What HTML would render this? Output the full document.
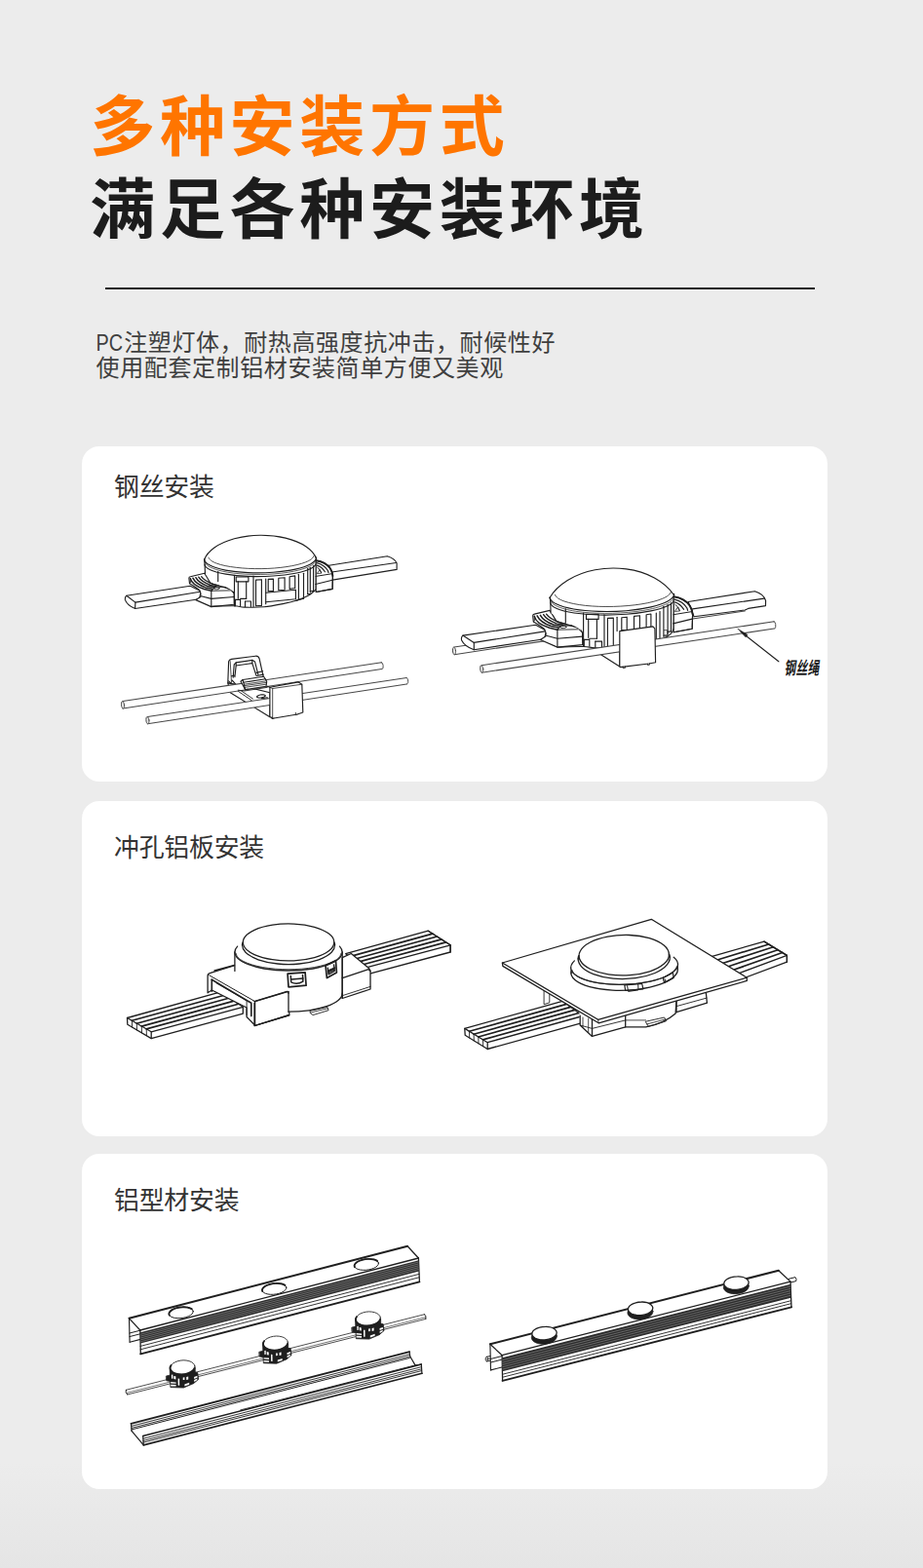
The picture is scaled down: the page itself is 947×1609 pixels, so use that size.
<!DOCTYPE html>
<html lang="zh-CN"><head><meta charset="utf-8"><title>多种安装方式</title>
<style>
html,body{margin:0;padding:0}
html{background:#ececec}
body{width:947px;height:1609px;position:relative;overflow:hidden;font-family:"Liberation Sans",sans-serif;
 background:linear-gradient(180deg,#ececec 0,#ececec 1500px,#e5e5e5 1609px)}
.card{position:absolute;left:84px;width:765px;height:344px;background:#fff;border-radius:18px}
.rule{position:absolute;left:108px;top:295px;width:728px;height:2px;background:#1e1e1e}
.art{position:absolute;left:0;top:0;width:947px;height:1609px;display:block}
.t{position:absolute;margin:0;color:transparent;white-space:nowrap;font-family:"Liberation Sans",sans-serif;overflow:hidden}
h1.t{left:96px;top:90px;width:570px;height:160px;font-size:66px;line-height:83px;font-weight:700}
p.t{left:99px;top:338px;width:480px;height:52px;font-size:24px;line-height:24.5px}
h2.t{left:117px;width:300px;height:30px;font-size:24px;line-height:30px;font-weight:400}
</style></head>
<body>
<h1 class="t">多种安装方式<br>满足各种安装环境</h1>
<div class="rule"></div>
<p class="t">PC注塑灯体，耐热高强度抗冲击，耐候性好<br>使用配套定制铝材安装简单方便又美观</p>
<section class="card" style="top:458px"></section>
<section class="card" style="top:822px"></section>
<section class="card" style="top:1184px"></section>
<h2 class="t" style="top:484px">钢丝安装</h2>
<h2 class="t" style="top:853px">冲孔铝板安装</h2>
<h2 class="t" style="top:1217px">铝型材安装</h2>
<span class="t" style="left:805px;top:676px;width:38px;height:18px;font-size:12px;line-height:18px">钢丝绳</span>
<svg class="art" width="947" height="1609" viewBox="0 0 947 1609">
<g font-family='"Liberation Sans", "Noto Sans CJK SC", sans-serif'>
<text x="92.2" y="154" font-size="67" font-weight="700" fill="#ff7500" letter-spacing="4.7">多种安装方式</text>
<text x="92.2" y="239.3" font-size="67" font-weight="700" fill="#1c1c1c" letter-spacing="4.7">满足各种安装环境</text>
<text x="98.6" y="359.6" font-size="24" fill="#3f3f3f" textLength="27.5" lengthAdjust="spacingAndGlyphs">PC</text>
<text x="127.2" y="359.6" font-size="24" fill="#3f3f3f" letter-spacing="0.6">注塑灯体，耐热高强度抗冲击，耐候性好</text>
<text x="98.6" y="386.2" font-size="24" fill="#3f3f3f" letter-spacing="0.6">使用配套定制铝材安装简单方便又美观</text>
<text x="117.1" y="509.4" font-size="25.9" fill="#333" letter-spacing="-0.25">钢丝安装</text>
<text x="117.1" y="878.6" font-size="25.9" fill="#333" letter-spacing="-0.25">冲孔铝板安装</text>
<text x="117.1" y="1241.2" font-size="25.9" fill="#333" letter-spacing="-0.25">铝型材安装</text>
<g transform="translate(804.4 692.2) skewX(-9) scale(0.64 1)"><text x="0" y="0" font-size="18.2" font-weight="700" fill="#1c1c1c" letter-spacing="0.55">钢丝绳</text></g>
</g>
<g fill="none" stroke="#1f1f1f" stroke-width="1.1" stroke-linecap="round" stroke-linejoin="round">
<g stroke-width="1.15">
<path fill="#fff" d="M129.8 611.3 L195.2 601.2 L206.2 606.7 L204.5 614.7 L138.6 624.5 Q130.5 621.4 128.3 615.4 Q128.1 612.3 129.8 611.3 Z"/>
<path d="M129.8 611.3 L138.9 618.1 205.3 607.2"/>
<path d="M138.9 618.1 L138.6 624.5"/>
<path fill="#fff" d="M193.9 593.2 Q193.9 591.8 195.3 591.7 L209.8 588.3 L216 598.5 L238.2 605.1 L240.1 609 L240.3 620.3 L216.8 622.6 L200.9 615.6 L205.8 612.5 Q206.8 609.6 205 606 Q202 603.1 194.5 598.8 Z"/>
<path stroke-width="1.5" d="M195.3 593.7 Q196.8 600.3 209.4 604.5 L216.8 606.3"/>
<path stroke-width="1.5" d="M197.9 593.2 Q200.9 599.4 210.9 602.9 L217.9 604.2"/>
<path stroke-width="1.5" d="M200.9 592.7 Q203.8 598.1 213.1 601.6 L219.7 602.6"/>
<path stroke-width="1.4" d="M203.8 592.2 Q206.8 597.1 216 600.5 L222 601.6"/>
<path stroke-width="1.3" d="M206.6 591.7 Q209.4 595.9 219 599.6 L224.2 600.8"/>
<path stroke-width="0.9" d="M194.5 598.8 L195.3 598.1 L195.3 593.7"/>
<path d="M216.8 606.3 L216.8 622.6"/>
<path d="M216.8 606.3 L220.5 602.3 L230.1 602.2 L238.2 605.1"/>
<path stroke-width="0.9" d="M216.8 606.3 L236.7 605.9 240.1 609.0"/>
<path d="M206.4 611.8 L216.8 614.4 L240.1 612.5"/>
<path stroke-width="0.9" d="M225.1 603.7 C225.1 603.8 225 604 224.8 604.1 C224.6 604.3 224.3 604.5 224 604.6 C223.6 604.7 223.2 604.8 222.7 604.8 C222.3 604.9 221.8 604.9 221.4 604.8 C221 604.8 220.6 604.7 220.3 604.6 C220 604.5 219.7 604.3 219.6 604.2 C219.5 604 219.5 603.9 219.6 603.7 C219.7 603.5 219.9 603.4 220.2 603.2 C220.5 603.1 220.9 603 221.3 602.9 C221.7 602.8 222.2 602.8 222.6 602.8 C223.1 602.8 223.5 602.8 223.9 602.9 C224.3 602.9 224.6 603.1 224.8 603.2 C225 603.3 225.1 603.5 225.1 603.7 Z"/>
<path fill="#fff" stroke="none" d="M209.6 573.8 Q220.3 550.1 267.6 549.3 Q316.6 550.1 324.5 572.1 L324.2 605 Q314.9 613.5 303.4 616.4 L271 622.8 L240.5 621.9 L240.5 607.2 L210.5 589.3 Z"/>
<path d="M209.5 574.8 C211 570.2 214.5 565.8 219.9 562 C225.2 558.2 232.3 555.1 240.4 552.8 C248.5 550.6 257.5 549.4 266.7 549.3 C275.8 549.2 284.8 550.1 293 552.1 C301.2 554.1 308.3 557 313.8 560.7 C319.2 564.3 322.9 568.6 324.5 573.2"/>
<path stroke-width="0.8" d="M321.9 570.6 C321.3 572.8 318.4 575 313.5 576.9 C308.7 578.8 301.9 580.4 294 581.6 C286.1 582.8 277.2 583.5 268.1 583.6 C259 583.7 250.1 583.3 242.2 582.3 C234.2 581.4 227.4 580 222.5 578.2 C217.6 576.4 214.7 574.3 214 572.1"/>
<path d="M324.5 572.2 C324.6 574.4 322.6 576.6 318.9 578.7 C315.2 580.7 309.8 582.6 303 584.1 C296.3 585.6 288.5 586.6 280.1 587.3 C271.7 587.9 262.9 588 254.5 587.6 C246.1 587.2 238.2 586.4 231.4 585.1 C224.7 583.8 219.2 582.1 215.4 580.1 C211.6 578.2 209.7 576 209.6 573.7"/>
<path stroke-width="0.7" d="M324.3 574.8 C324 577.3 321.2 579.8 316.1 581.9 C311.1 584.1 303.9 585.9 295.4 587.3 C286.9 588.6 277.2 589.4 267.4 589.5 C257.6 589.6 248 589.1 239.5 588.1 C230.9 587 223.7 585.3 218.6 583.3 C213.4 581.3 210.6 578.9 210.2 576.4"/>
<path d="M324.5 577.6 C324.5 579.5 322.6 581.5 318.9 583.4 C315.2 585.2 309.8 586.8 303.1 588.2 C296.4 589.5 288.5 590.5 280.2 591 C271.8 591.6 263.1 591.7 254.7 591.4 C246.3 591.1 238.4 590.3 231.7 589.1 C224.9 588 219.5 586.5 215.7 584.8 C212 583.1 210 581.1 210 579.1"/>
<path d="M209.6 573.8 L210.1 579.7 210.5 589.3"/>
<path d="M324.5 572.1 L324.5 576.8 324.2 605.0"/>
<path d="M216.4 622.3 C220.4 622.2 234.8 621.6 240.5 621.8 C246.3 621.9 245.6 623 250.7 623.1 C255.8 623.3 264.2 623.4 271 622.8 C277.7 622.2 285.6 620.5 291.2 619.4 C296.9 618.3 300.5 617.4 304.8 616 C309 614.6 313.3 612.8 316.6 611 C319.8 609.1 322.9 606 324.2 605.0"/>
<path d="M223.7 586.5 L223.7 596.6"/>
<path d="M240.5 590.3 L240.5 621.8"/>
<path d="M260 591 L260 622.4"/>
<path d="M242.2 592 L254.9 592 254.9 596.8 242.2 596.8 Z"/>
<path d="M244.3 596.8 L244.3 614.3"/>
<path d="M252.7 596.8 L252.7 614.3"/>
<path d="M241.4 615.4 L246.6 615.4 246.6 621.8"/>
<path d="M241.4 615.4 L241.4 621.8"/>
<path d="M251.5 617 L257.4 617 257.4 622.4"/>
<path d="M251.5 617 L251.5 622.4"/>
<path d="M246.6 614.3 L252.7 614.3"/>
<path d="M262.5 595.1 L268.4 594.7 268.4 621.4 262.5 621.8 Z"/>
<path d="M272.7 594.1 L272.7 619.7"/>
<path d="M275.2 594.4 L280.4 594.1 280.4 606.4 275.2 606.9 Z"/>
<path d="M285.8 593.2 L292.1 592.7 292.1 605.2 285.8 605.7 Z"/>
<path d="M297.1 591.7 L302.7 590.9 302.7 603.5 297.1 604.4 Z"/>
<path d="M273 608.3 L303.4 605.2 303.4 614.7 273 617.7"/>
<path d="M306.4 589.3 L306.4 615.5"/>
<path d="M311.5 588.2 L311.5 614.3"/>
<path d="M315.7 583.3 L315.7 609.6"/>
<path d="M318.3 582.2 L318.3 607.9"/>
<path d="M321.6 580.5 L321.6 606.7"/>
<path d="M315.7 609.6 L318.3 609.6"/>
<path d="M318.3 606.7 L321.6 606.2"/>
<path d="M303.4 616.4 L311.5 614.3"/>
<path fill="#fff" d="M337.4 580.2 L397.4 570.7 Q405.4 573.1 407.1 578 L407.1 584.4 L341.2 595.1 Z"/>
<path d="M340.5 587 L406.4 577.5"/>
<path fill="#fff" d="M324.2 575.2 Q334.7 576.6 339.2 583.7 Q341.4 587.3 341.4 591 L341.1 604.4 L324.2 607.5 Z"/>
<path stroke-width="1.9" d="M324.4 575.2 Q334 576.4 338.8 583.3 Q341.2 587.3 341.4 591.0"/>
<path stroke-width="1.2" d="M325 577.7 Q332.5 579.4 336.4 585.5 L337 587.6"/>
<path stroke-width="1.1" d="M325.3 580.1 Q330.3 581.6 333.4 586.8"/>
<path stroke-width="1.0" d="M325.7 582.3 Q328.5 583.8 329.6 587.6"/>
<path stroke-width="1.0" d="M324 591.4 L340.8 588.7"/>
<path d="M323.8 599.5 L341.1 595.3"/>
<path d="M341.4 591 L341.1 604.4 324.2 607.5"/>
<path stroke-width="0.8" d="M325.5 588.2 L328.1 584.5 329.7 587.8 Z"/>
</g>
<g stroke-width="1.15">
<path fill="#fff" d="M233.8 700.9 L234.6 678.9 Q235 676.9 237.5 676.4 L262.2 673.2 Q265.2 673 266.1 675.9 L271 698.2 L250.7 704.3 Z"/>
<path d="M239.2 695.1 L240.2 682 L242.2 679.9 L259.1 677.4 L261.5 678.9 L264.9 692.4"/>
<path d="M242.2 683 L258.8 680.6"/>
<path d="M242.2 679.9 L242.2 683 240.9 694.6"/>
<path d="M258.8 677.4 L258.8 680.6 262.9 693.1"/>
<path stroke-width="0.8" d="M236.2 678.6 L237.5 700.5"/>
<path d="M262.9 690.4 L269.6 688.7"/>
<path d="M263.5 693.5 L270.3 692.1"/>
<path d="M237.5 693.8 L240.5 693.1"/>
<path d="M238 698 L241.9 702.2"/>
<path d="M234.6 698.9 L240.5 704.3"/>
<path fill="#fff" d="M233.8 700.9 L236.3 710.7 L276.9 735.7 L276.9 710.7 L250.7 704.3 Z"/>
<path stroke-width="0.9" d="M244.3 709.3 L258.3 718.8"/>
<path stroke-width="0.9" d="M246.5 708.2 L259.5 717.1"/>
<path d="M272.3 713.8 C272.3 714 272.2 714.3 271.9 714.6 C271.6 714.8 271.1 715.1 270.6 715.3 C270 715.5 269.4 715.7 268.6 715.8 C268 716 267.2 716 266.6 716 C265.9 716 265.3 716 264.8 715.9 C264.3 715.7 263.9 715.6 263.7 715.3 C263.5 715.1 263.5 714.9 263.6 714.6 C263.8 714.4 264.1 714.1 264.5 713.9 C265 713.6 265.5 713.4 266.2 713.2 C266.8 713 267.5 712.9 268.2 712.8 C268.9 712.8 269.6 712.8 270.2 712.8 C270.8 712.9 271.3 713 271.7 713.2 C272 713.3 272.2 713.5 272.3 713.8 Z"/>
<path d="M268.4 716.6 L274.3 715.8 274.3 720.8 269.6 721.7 269.6 724.2"/>
<path fill="#fff" stroke="none" d="M126 719.6 L391.6 679.8 L391.6 686.6 L126 727.1 Z"/>
<path stroke-width="1.05" stroke="#484848" d="M126 719.6 L391.6 679.8"/>
<path stroke-width="1.05" stroke="#484848" d="M126 727.1 L391.6 686.6"/>
<path fill="#e8e8e8" stroke-width="1.0" stroke="#484848" d="M127.5 723.2 C127.6 723.8 127.6 724.4 127.5 724.9 C127.4 725.5 127.3 726 127.2 726.3 C127 726.7 126.8 726.9 126.6 727 C126.3 727.1 126.1 727.1 125.8 726.9 C125.6 726.7 125.4 726.4 125.1 725.9 C124.9 725.5 124.8 725 124.6 724.4 C124.5 723.8 124.5 723.2 124.5 722.6 C124.5 722 124.5 721.5 124.6 721 C124.7 720.5 124.9 720.2 125.1 719.9 C125.3 719.7 125.5 719.6 125.8 719.6 C126 719.7 126.3 719.9 126.5 720.2 C126.8 720.5 127 721 127.1 721.5 C127.3 722 127.4 722.6 127.5 723.2 Z"/>
<path stroke-width="1.0" stroke="#484848" d="M391.2 679.8 C391.5 679.8 391.7 679.9 391.9 680.1 C392.2 680.3 392.4 680.6 392.5 681 C392.7 681.4 392.9 681.8 393 682.3 C393.1 682.8 393.1 683.3 393.1 683.8 C393.1 684.3 393.1 684.8 393 685.2 C392.9 685.6 392.7 685.9 392.6 686.2 C392.4 686.4 392.2 686.6 392 686.6"/>
<path fill="#fff" d="M247 699.2 L249 697.5 L270.6 694.3 L273.7 699.2 L273 704.3 L251.5 707.6 L249.8 704.3 Z"/>
<path d="M249.8 700.2 L272.3 696.8"/>
<path stroke-width="0.8" d="M250.7 702.2 L272.7 698.9"/>
<path stroke-width="0.8" d="M251 703.6 L272.8 700.5"/>
<path stroke-width="0.8" d="M251.4 705.3 L273 702.2"/>
<path d="M249 697.5 L249.8 700.2 251.5 707.6"/>
<path stroke-width="0.9" d="M244.3 708.2 L250.7 709 L274.3 705.3"/>
<path fill="#fff" stroke="none" d="M151.4 735.5 L417.2 695.5 L417.2 701.9 L151.4 742.8 Z"/>
<path stroke-width="1.05" stroke="#484848" d="M151.4 735.5 L417.2 695.5"/>
<path stroke-width="1.05" stroke="#484848" d="M151.4 742.8 L417.2 701.9"/>
<path fill="#e8e8e8" stroke-width="1.0" stroke="#484848" d="M152.9 739 C153 739.6 153 740.2 152.9 740.7 C152.8 741.2 152.7 741.7 152.6 742 C152.4 742.4 152.2 742.6 152 742.7 C151.7 742.8 151.5 742.8 151.2 742.6 C151 742.4 150.7 742.1 150.5 741.7 C150.3 741.3 150.2 740.7 150 740.2 C149.9 739.6 149.9 739 149.9 738.4 C149.9 737.9 149.9 737.3 150 736.9 C150.1 736.4 150.3 736 150.5 735.8 C150.7 735.6 151 735.5 151.2 735.5 C151.4 735.6 151.7 735.8 151.9 736.1 C152.2 736.4 152.4 736.8 152.5 737.3 C152.7 737.8 152.8 738.4 152.9 739 Z"/>
<path stroke-width="1.0" stroke="#484848" d="M416.9 695.5 C417.1 695.5 417.3 695.6 417.5 695.8 C417.8 696 418 696.2 418.2 696.6 C418.3 697 418.5 697.4 418.6 697.8 C418.7 698.3 418.7 698.8 418.7 699.3 C418.7 699.7 418.7 700.2 418.6 700.6 C418.5 701 418.3 701.3 418.1 701.5 C418 701.7 417.8 701.9 417.5 701.9"/>
<path fill="#fff" d="M276.9 705.3 L306.1 699.9 L309.8 702.2 L310.8 731 L305.1 733 L279.7 737.2 L276.9 735.4 Z"/>
<path d="M274.3 704.3 L276.9 705.3"/>
<path stroke-width="0.8" d="M279.7 706.5 L279.7 737.2"/>
<path stroke-width="0.8" d="M276.9 705.3 L279.7 706.5 309.8 702.2"/>
<path stroke-width="0.8" d="M303.4 731.3 L303.4 733.7 305.1 733.0"/>
<path stroke-width="0.8" d="M279.1 735.7 L279.1 737.7 281.1 737.0"/>
</g>
<g stroke-width="1.15">
<path fill="#fff" stroke="none" d="M466 664.1 L764.3 619.4 L764.3 626.9 L466 671.7 Z"/>
<path stroke-width="1.05" stroke="#484848" d="M466 664.1 L764.3 619.4"/>
<path stroke-width="1.05" stroke="#484848" d="M466 671.7 L764.3 626.9"/>
<path fill="#e8e8e8" stroke-width="1.0" stroke="#484848" d="M467.5 667.7 C467.6 668.4 467.6 669 467.5 669.5 C467.5 670.1 467.3 670.6 467.2 670.9 C467 671.3 466.8 671.5 466.6 671.6 C466.3 671.7 466.1 671.7 465.8 671.5 C465.6 671.3 465.4 671 465.1 670.5 C464.9 670.1 464.8 669.5 464.6 669 C464.5 668.4 464.5 667.7 464.5 667.1 C464.5 666.5 464.5 666 464.6 665.5 C464.7 665 464.9 664.7 465.1 664.4 C465.3 664.2 465.5 664.1 465.8 664.1 C466 664.2 466.3 664.4 466.5 664.7 C466.8 665 467 665.5 467.1 666 C467.3 666.5 467.4 667.1 467.5 667.7 Z"/>
<path fill="#fff" d="M474.9 652.1 L549.6 641.3 L560.6 647.2 L558.4 655.7 L486.3 666.7 Q476.6 663.1 473.6 656.9 Q472.9 653.7 474.9 652.1 Z"/>
<path d="M474.9 652.1 L486.3 659.4 558.9 647.9"/>
<path d="M486.3 659.4 L486.3 666.7"/>
<path fill="#fff" d="M546.7 631.8 Q546.7 630.3 548.3 630.1 L564.1 626.4 L571 637.6 L595.4 644.9 L597.5 649.2 L597.7 661.6 L571.9 664.1 L554.4 656.5 L559.8 653.1 Q560.9 649.8 558.9 645.9 Q555.6 642.7 547.3 638 Z"/>
<path stroke-width="1.5" d="M548.3 632.3 Q549.9 639.7 563.7 644.3 L571.9 646.2"/>
<path stroke-width="1.5" d="M551.1 631.8 Q554.4 638.6 565.4 642.5 L573.1 644.0"/>
<path stroke-width="1.5" d="M554.4 631.3 Q557.6 637.2 567.8 641 L575.1 642.2"/>
<path stroke-width="1.4" d="M557.6 630.7 Q560.9 636.2 571 639.9 L577.6 641.0"/>
<path stroke-width="1.3" d="M560.6 630.1 Q563.7 634.8 574.3 638.8 L580 640.2"/>
<path stroke-width="0.9" d="M547.3 638 L548.3 637.2 L548.3 632.3"/>
<path d="M571.9 646.2 L571.9 664.1"/>
<path d="M571.9 646.2 L575.9 641.9 L586.5 641.7 L595.4 644.9"/>
<path stroke-width="0.9" d="M571.9 646.2 L593.8 645.8 597.5 649.2"/>
<path d="M560.5 652.3 L571.9 655.2 L597.6 653.1"/>
<path stroke-width="0.9" d="M581 643.3 C581.1 643.5 580.9 643.7 580.7 643.9 C580.5 644 580.2 644.2 579.8 644.3 C579.4 644.4 578.9 644.5 578.4 644.6 C577.9 644.6 577.4 644.6 576.9 644.6 C576.4 644.6 576 644.5 575.7 644.4 C575.4 644.2 575.1 644.1 575 643.9 C574.8 643.7 574.8 643.6 575 643.4 C575.1 643.2 575.3 643 575.6 642.8 C575.9 642.7 576.4 642.6 576.8 642.5 C577.3 642.4 577.8 642.3 578.3 642.3 C578.8 642.3 579.2 642.4 579.7 642.5 C580.1 642.5 580.4 642.7 580.7 642.8 C580.9 643 581 643.1 581 643.3 Z"/>
<path fill="#fff" stroke="none" d="M564.3 612.9 Q573.6 583.4 629.3 583 Q683.4 584.2 691.5 609.6 L691.2 645 Q683.4 654.3 671.6 659.4 L636.1 665.3 L599.3 663.6 L598.6 647.6 L565.1 629 Z"/>
<path d="M563.8 613.7 C567.8 606.8 574.1 600.6 582.3 595.5 C590.4 590.5 600 586.8 610.5 584.8 C620.9 582.8 631.9 582.5 642.5 583.9 C653 585.3 662.9 588.4 671.4 592.9 C679.8 597.5 686.5 603.3 691 610.0"/>
<path stroke-width="0.8" d="M688.5 607.3 C687.9 609.8 684.7 612.2 679.4 614.4 C674.1 616.6 666.7 618.5 657.9 619.9 C649.2 621.3 639.4 622.1 629.4 622.4 C619.4 622.7 609.5 622.3 600.7 621.4 C591.9 620.4 584.5 618.9 579 617 C573.6 615.1 570.3 612.9 569.5 610.4"/>
<path d="M691.7 609.6 C691.7 612 689.6 614.5 685.5 616.8 C681.4 619.1 675.5 621.2 668 622.9 C660.6 624.6 651.9 625.9 642.6 626.7 C633.3 627.5 623.6 627.7 614.2 627.4 C604.9 627.1 596.1 626.3 588.6 625 C581.1 623.7 575 621.9 570.8 619.8 C566.6 617.7 564.4 615.4 564.3 612.9"/>
<path stroke-width="0.7" d="M691.5 612.7 C691.2 615.3 688.1 618 682.5 620.4 C676.9 622.9 669 625 659.5 626.5 C650.1 628.1 639.4 629 628.6 629.3 C617.7 629.6 607 629.2 597.5 628.2 C588 627.1 580 625.4 574.3 623.3 C568.6 621.2 565.3 618.6 564.9 616.0"/>
<path d="M691.5 615.2 C691.5 617.3 689.5 619.5 685.4 621.5 C681.3 623.5 675.3 625.4 667.9 626.9 C660.5 628.4 651.9 629.6 642.6 630.3 C633.3 631 623.7 631.3 614.4 631 C605.1 630.8 596.4 630.1 589 629 C581.5 627.8 575.4 626.3 571.3 624.5 C567.1 622.7 564.9 620.6 564.8 618.5"/>
<path d="M564.3 612.9 L564.8 619.7 565.1 629.0"/>
<path d="M691.5 609.6 L691.5 613.8 691.2 645.0"/>
<path d="M572.7 664.1 C577 664 592.3 663.3 598.6 663.5 C604.9 663.6 604.5 664.5 610.8 664.8 C617 665.1 631.9 665.2 636.1 665.3"/>
<path d="M671.6 659.4 C673 658.9 677.2 657.6 680 656 C682.8 654.5 686.6 651.9 688.5 650.1 C690.3 648.3 690.7 645.9 691.2 645.0"/>
<path d="M580.3 624.8 L580.3 639.1"/>
<path d="M598.6 629 L598.6 663.5"/>
<path d="M601.5 630.3 L614.1 630.3 614.1 635.4 601.5 635.4 Z"/>
<path d="M603.7 635.4 L603.7 654.3"/>
<path d="M612.4 635.4 L612.4 655.2"/>
<path d="M604.8 655.2 L612.4 655.2"/>
<path d="M599.3 656.4 L604.8 656.4 604.8 663.1"/>
<path d="M599.3 656.4 L599.3 663.1"/>
<path d="M610.8 658.1 L617.5 658.1 617.5 664.5"/>
<path d="M610.8 658.1 L610.8 664.5"/>
<path d="M620 630.7 L620 664.8"/>
<path d="M623.4 634.4 L629.3 634.1 629.3 664.8 623.4 664.8 Z"/>
<path d="M633.1 633.2 L633.1 647.6"/>
<path d="M637.8 633.7 L643.2 633.2 643.2 646.2 637.8 646.7 Z"/>
<path d="M650.5 632.4 L656.4 631.7 656.4 645.2 650.5 645.9 Z"/>
<path d="M663.1 630.7 L667.9 630 667.9 643.5 663.1 644.2 Z"/>
<path d="M673.3 629 L673.3 658.6"/>
<path d="M677 627.6 L677 657.4"/>
<path d="M680.9 622.2 L680.9 653.0"/>
<path d="M685.1 620.5 L685.1 651.0"/>
<path d="M688.5 618.9 L688.5 647.9"/>
<path d="M680.9 653 L685.1 652.7"/>
<path d="M685.1 648.4 L688.5 647.9"/>
<path stroke-width="0.8" d="M681.4 646.7 L684.8 646.7 684.8 651.8 681.4 651.8"/>
<path fill="#fff" d="M706.1 617.5 L774.5 606.7 Q783.8 609.6 785.6 616.3 L785.5 621.6 L767.7 624.4 L764.3 626 L712 632.7 Z"/>
<path d="M710.6 624.9 L783.9 614.1"/>
<path fill="#fff" d="M691.2 612.3 Q703.1 614 708.1 621.9 Q710.6 626.1 710.6 630.3 L710.2 645.3 L691.2 648.8 Z"/>
<path stroke-width="1.9" d="M691.4 612.3 Q702.2 613.7 707.7 621.5 Q710.4 626.1 710.6 630.3"/>
<path stroke-width="1.2" d="M692 615.2 Q700.6 617.1 704.9 624 L705.6 626.4"/>
<path stroke-width="1.1" d="M692.4 617.9 Q698 619.6 701.6 625.4"/>
<path stroke-width="1.0" d="M692.9 620.4 Q696 622.1 697.2 626.4"/>
<path stroke-width="1.0" d="M690.9 630.7 L709.9 627.6"/>
<path d="M690.7 639.9 L710.2 635.1"/>
<path d="M710.6 630.3 L710.2 645.3 691.2 648.8"/>
<path stroke-width="0.8" d="M692.6 627.1 L695.5 622.9 697.4 626.6 Z"/>
<path fill="#fff" d="M615.8 671.2 L635.8 684.1 L635.8 667.9 L629.3 665.3 Z"/>
<path stroke-width="0.8" d="M626 667 L629.3 666.5 629.3 669.5 631.4 669.2"/>
<path fill="#fff" stroke="none" d="M494.2 682.7 L794.3 637.8 L794.3 645 L494.2 690.2 Z"/>
<path stroke-width="1.05" stroke="#484848" d="M494.2 682.7 L794.3 637.8"/>
<path stroke-width="1.05" stroke="#484848" d="M494.2 690.2 L794.3 645.0"/>
<path fill="#e8e8e8" stroke-width="1.0" stroke="#484848" d="M495.7 686.3 C495.8 686.9 495.8 687.5 495.7 688 C495.6 688.6 495.5 689.1 495.4 689.4 C495.2 689.8 495 690 494.8 690.1 C494.5 690.2 494.3 690.2 494 690 C493.8 689.8 493.6 689.5 493.3 689 C493.1 688.6 493 688.1 492.8 687.5 C492.7 686.9 492.7 686.3 492.7 685.7 C492.7 685.1 492.7 684.6 492.8 684.1 C492.9 683.6 493.1 683.3 493.3 683 C493.5 682.8 493.7 682.7 494 682.7 C494.2 682.8 494.5 683 494.7 683.3 C495 683.6 495.2 684.1 495.3 684.6 C495.5 685.1 495.6 685.7 495.7 686.3 Z"/>
<path stroke-width="1.0" stroke="#484848" d="M793.9 637.8 C794.1 637.8 794.4 637.9 794.6 638.1 C794.8 638.3 795 638.6 795.2 639 C795.4 639.5 795.6 639.9 795.7 640.5 C795.8 641 795.8 641.5 795.8 642 C795.8 642.6 795.8 643.1 795.7 643.5 C795.6 643.9 795.5 644.3 795.3 644.6 C795.1 644.8 794.9 645 794.7 645.0"/>
<path fill="#fff" d="M635.8 647.6 L669.9 642.9 L671.9 645.2 L672.6 679.7 L665.7 681 L636.4 684.6 L635.8 683.4 Z"/>
<path stroke-width="0.8" d="M639.1 684.1 L639.1 685.8 641.5 685.4 641.5 683.9"/>
<path stroke-width="0.8" d="M664.5 681.2 L664.5 682.6 666.5 682.2 666.5 680.9"/>
<path stroke-width="1.1" d="M798.9 678.8 L760.3 648.4"/>
<path fill="#1c1c1c" stroke-width="0.5" d="M757.1 645.2 L767.1 651.5 L765.2 653.7 Z"/>
</g>
<g stroke-width="1.3">
<path fill="#fff" d="M130.5 1044.5 L226.4 1017.9 L249.3 1033.3 L249.3 1040.1 L155.2 1065.6 L130.8 1051.3 Z"/>
<path d="M155.2 1058.8 L249.3 1033.3"/>
<path stroke-width="1.7" d="M135.4 1047.3 L231 1021.0"/>
<path stroke-width="0.9" d="M135.4 1047.3 L135.6 1054.2"/>
<path stroke-width="1.7" d="M140.3 1050.2 L235.6 1024.0"/>
<path stroke-width="0.9" d="M140.3 1050.2 L140.5 1057.0"/>
<path stroke-width="1.7" d="M145.3 1053.1 L240.1 1027.1"/>
<path stroke-width="0.9" d="M145.3 1053.1 L145.5 1059.9"/>
<path stroke-width="1.7" d="M150.2 1055.9 L244.7 1030.2"/>
<path stroke-width="0.9" d="M150.2 1055.9 L150.4 1062.7"/>
<path d="M130.5 1044.5 L155.2 1058.8 155.2 1065.6"/>
<path fill="#fff" d="M354.7 978.7 L439.3 955.2 L462.1 969.8 L462.1 977 L374.7 1000.4 L374.7 993.2 Z"/>
<path d="M374.7 993.2 L462.1 969.8"/>
<path stroke-width="1.7" d="M358.7 981.6 L443.9 958.1"/>
<path stroke-width="1.7" d="M362.7 984.5 L448.4 961.0"/>
<path stroke-width="1.7" d="M366.7 987.4 L453 963.9"/>
<path stroke-width="1.7" d="M370.7 990.3 L457.5 966.9"/>
<path d="M439.3 955.2 L462.1 969.8 462.1 977.0"/>
<path fill="#fff" d="M213.1 1001.4 Q213.1 998.9 216 998.3 L241.6 990.3 L296.8 1015 L296.8 1041.6 L261.6 1052.5 L260.7 1051.2 L253.1 1043.5 L253.1 1034 L217.3 1016 L213.1 1018.8 Z"/>
<path stroke-width="1.6" d="M217.3 1005.2 L217.3 1017.3"/>
<path stroke-width="1.6" d="M217.3 1005.2 L257.8 1029.3 L257.8 1042.6"/>
<path stroke-width="1.0" d="M214.7 1000.8 L261.6 1027.6"/>
<path d="M261.6 1027.6 L261.6 1052.5"/>
<path d="M261.6 1027.6 L295.8 1017.3"/>
<path stroke-width="0.8" d="M260.7 1029.3 L260.7 1051.2"/>
<path stroke-width="0.9" d="M222.3 1009 L253.1 1026.8 L253.1 1041.6"/>
<path d="M261.6 1052.5 L296.8 1042.0"/>
<path fill="#fff" stroke="none" d="M240.9 977 Q242.8 948.5 296 948.5 Q349.3 948.5 351.2 977 L351.2 1024.2 Q334 1037.8 296 1038.2 L296 1017.3 L240.9 996 Z"/>
<path fill="#fff" d="M351.2 982.7 L360.3 978.5 L378.7 993.7 L380 996.4 L380 1015 L351.2 1024.5 Z"/>
<path d="M351.2 1003.6 L378.1 994.7 380 996.4"/>
<path stroke-width="0.9" d="M351.2 1021.7 L380 1012.4"/>
<path d="M342.8 966.9 C342.8 970 340.9 973 337.4 975.8 C333.9 978.5 328.8 980.8 322.6 982.6 C316.4 984.3 309.2 985.4 301.7 985.8 C294.1 986.2 286.5 985.8 279.5 984.7 C272.4 983.6 266.1 981.9 261 979.6 C256 977.3 252.4 974.5 250.6 971.5 C248.8 968.5 248.8 965.4 250.6 962.4 C252.4 959.4 256 956.6 261 954.3 C266.1 952 272.4 950.3 279.5 949.2 C286.5 948.1 294.1 947.7 301.7 948.1 C309.2 948.5 316.4 949.6 322.6 951.3 C328.8 953.1 333.9 955.4 337.4 958.1 C340.9 960.8 342.8 963.9 342.8 966.9 Z"/>
<path d="M343.4 968.1 C344 971.2 342.9 974.3 340.1 977.3 C337.2 980.2 332.7 982.7 327 984.8 C321.3 986.8 314.5 988.3 307.2 989 C299.9 989.8 292.2 989.8 284.9 989 C277.6 988.3 270.7 986.8 265 984.8 C259.3 982.7 254.9 980.2 252 977.3 C249.2 974.3 248 971.2 248.7 968.1"/>
<path d="M249.3 966.9 L248.5 969.8"/>
<path d="M342.8 966.9 L343.5 969.8"/>
<path d="M348.5 971.1 C351.1 974 351.8 977 350.5 980 C349.1 983 345.7 985.8 340.6 988.2 C335.5 990.6 328.8 992.6 321.1 994 C313.3 995.3 304.7 996 296 996 C287.3 996 278.8 995.3 271 994 C263.3 992.6 256.6 990.6 251.4 988.2 C246.3 985.8 242.9 983 241.6 980 C240.2 977 240.9 974 243.6 971.1"/>
<path stroke-width="0.8" d="M350 978.2 C349.6 981.1 347 984 342.1 986.5 C337.3 989 330.5 991.1 322.5 992.5 C314.4 993.9 305.3 994.7 296 994.7 C286.8 994.7 277.7 993.9 269.6 992.5 C261.5 991.1 254.7 989 249.9 986.5 C245.1 984 242.4 981.1 242.1 978.2"/>
<path d="M240.9 977 L240.9 996.4"/>
<path d="M351.2 977 L351.2 1024.2"/>
<path d="M351.2 1019.2 C351.2 1021.7 349.7 1024.2 347 1026.5 C344.2 1028.8 340.1 1030.9 335 1032.7 C329.9 1034.4 323.8 1035.8 317.1 1036.8 C310.4 1037.7 303.3 1038.2 296 1038.2"/>
<path d="M296 1017.3 L296 1038.2"/>
<path d="M260.9 1027.6 L294.5 1017.3 Q296 1017.3 296 1019.2"/>
<path d="M260.9 1052.5 L296 1041.6"/>
<path d="M220 996 L240.5 990.3"/>
<path stroke-width="1.7" d="M295.1 999.1 L313.1 997.9 314.1 1011.2 296 1012.8 Z"/>
<path stroke-width="1.5" d="M298.3 1001.4 L298.7 1007.8 Q304.6 1010.9 310.9 1007.1 L310.5 1000.6"/>
<path stroke-width="1.6" d="M298.7 1005 L310.9 1004.0"/>
<path stroke-width="1.7" d="M334 990.7 L344.5 985.8 345.4 997.9 335.4 1003.6 Z"/>
<path stroke-width="1.4" d="M336.3 993.2 L337.1 999.8 L343.2 996.4 L342.6 989.9"/>
<path stroke-width="2.0" d="M336.7 996.4 L343.2 993.4"/>
<path stroke-width="1.4" d="M336.9 997.9 L343.2 994.9"/>
<path stroke-width="0.9" d="M318.5 1037.1 L335.9 1033.3 337.1 1036.7 321.1 1041.6 318.5 1039.7 Z"/>
<path stroke-width="0.8" d="M318.8 1039 L336.3 1034.8"/>
</g>
<g stroke-width="1.3">
<path fill="#fff" d="M476.8 1055.4 L577.1 1027.3 L598.1 1042.5 L598.1 1049.4 L500.2 1076.5 L477.2 1062.3 Z"/>
<path d="M500.2 1069.7 L598.1 1042.5"/>
<path stroke-width="1.7" d="M481.5 1058.3 L581.3 1030.4"/>
<path stroke-width="0.9" d="M481.5 1058.3 L481.7 1065.1"/>
<path stroke-width="1.7" d="M486.1 1061.2 L585.5 1033.4"/>
<path stroke-width="0.9" d="M486.1 1061.2 L486.3 1068.0"/>
<path stroke-width="1.7" d="M490.8 1064 L589.7 1036.4"/>
<path stroke-width="0.9" d="M490.8 1064 L491 1070.8"/>
<path stroke-width="1.7" d="M495.5 1066.9 L593.9 1039.5"/>
<path stroke-width="0.9" d="M495.5 1066.9 L495.7 1073.7"/>
<path d="M476.8 1055.4 L500.2 1069.7 500.2 1076.5"/>
<path stroke-width="0.9" d="M558.1 1016.5 L558.1 1030.7 563.8 1028.8 563.8 1019.3"/>
<path fill="#fff" d="M729.8 981.7 L784 966.1 L807.4 980.4 L807.4 987.2 L756.4 1006.2 L756.4 999.4 Z"/>
<path d="M756.4 999.4 L807.4 980.4"/>
<path stroke-width="1.7" d="M735.2 985.2 L788.7 969.0"/>
<path stroke-width="1.7" d="M740.5 988.8 L793.4 971.8"/>
<path stroke-width="1.7" d="M745.8 992.3 L798 974.7"/>
<path stroke-width="1.7" d="M751.1 995.8 L802.7 977.5"/>
<path d="M784 966.1 L807.4 980.4 807.4 987.2"/>
<path fill="#fff" stroke="none" d="M594.2 1036.4 L595.2 1052 L607.5 1063.4 L641.7 1053.9 L662.6 1053.9 Q681.6 1050.1 693.1 1039.9 L694 1038.7 L725.4 1029.2 L724.4 1015.5 L617 1025 Z"/>
<path d="M595.2 1042.1 L595.2 1052 607.5 1063.4 641.7 1053.9"/>
<path d="M607.5 1046.3 L607.5 1063.4"/>
<path stroke-width="0.8" d="M603.7 1045 L603.7 1059.3"/>
<path stroke-width="0.9" d="M595.2 1052 L607.5 1055.4 641.7 1046.9"/>
<path stroke-width="0.8" d="M598 1044 L598 1053.5"/>
<path d="M641.7 1042.1 L641.7 1053.9 L662.6 1053.9 Q681.6 1050.1 693.1 1039.9 L694 1026.9"/>
<path stroke-width="0.8" d="M641.7 1046.9 L662.6 1046.9"/>
<path d="M694 1038.7 L725.4 1029.2 724.4 1019.0"/>
<path stroke-width="0.9" d="M694 1032.6 L725 1024.1"/>
<path d="M694 1026.9 L694 1038.7"/>
<path stroke-width="0.9" d="M662.6 1048.2 L681.6 1044 683.5 1047.8 665.7 1053.2 Z"/>
<path stroke-width="0.8" d="M663.8 1050.9 L682.8 1045.9"/>
<path fill="#fff" d="M515.4 988 L668.3 943.3 L766.3 1003.2 L766.3 1006.4 L614.2 1049.8 L515.9 991.4 Z"/>
<path d="M515.4 988 L613.6 1046.3 766.3 1003.2"/>
<path stroke-width="0.8" d="M613.6 1046.3 L614.2 1049.8"/>
<path fill="#fff" d="M694.9 992.6 C696 995.7 694.9 998.9 691.8 1002 C688.7 1005 683.6 1007.8 677.1 1010.2 C670.6 1012.5 662.7 1014.2 654.2 1015.3 C645.7 1016.3 636.8 1016.6 628.3 1016.2 C619.7 1015.7 611.8 1014.5 605.1 1012.7 C598.4 1010.8 593.2 1008.4 589.9 1005.5 C586.6 1002.7 585.3 999.5 586.1 996.4"/>
<path stroke-width="1.0" d="M585.9 992.7 L586.2 998.8"/>
<path stroke-width="1.0" d="M695.3 989.3 L695.3 995.0"/>
<path fill="#fff" d="M691.2 982.3 C694.7 985.1 696.1 988.2 695.3 991.3 C694.4 994.4 691.4 997.5 686.5 1000.2 C681.5 1003 674.8 1005.3 667 1007.1 C659.1 1008.8 650.2 1009.9 641.3 1010.2 C632.3 1010.5 623.4 1010.1 615.4 1008.9 C607.4 1007.7 600.6 1005.8 595.4 1003.4 C590.3 1001 587.1 998.2 586.1 995.1 C585 992 586.2 988.9 589.4 985.9"/>
<path stroke-width="0.8" d="M694.3 991.7 C693.7 994.7 691 997.7 686.2 1000.4 C681.4 1003.1 674.8 1005.4 666.9 1007.1 C659.1 1008.8 650.2 1009.9 641.2 1010.2 C632.2 1010.5 623.3 1010.1 615.3 1008.9 C607.4 1007.8 600.6 1005.9 595.7 1003.6 C590.7 1001.2 587.7 998.4 587 995.5"/>
<path fill="#fff" d="M686.8 979.4 C688 982.9 687.2 986.4 684.6 989.7 C682 993 677.7 996.1 672 998.5 C666.3 1000.9 659.4 1002.7 652 1003.7 C644.5 1004.6 636.7 1004.8 629.2 1004.1 C621.7 1003.4 614.7 1001.8 608.9 999.6 C603.2 997.4 598.7 994.5 596.1 991.3 C593.4 988 592.5 984.6 593.5 981.1"/>
<path fill="#fff" d="M686.4 979.4 C686.5 982.7 684.7 986.1 681.3 989.1 C677.8 992.1 672.9 994.8 666.7 996.8 C660.6 998.8 653.6 1000.1 646.1 1000.7 C638.7 1001.2 631.2 1000.9 624.2 999.8 C617.2 998.8 610.9 996.9 605.9 994.5 C600.9 992.1 597.3 989.2 595.5 985.9 C593.6 982.7 593.5 979.3 595.3 976 C597 972.7 600.5 969.6 605.4 967 C610.3 964.4 616.5 962.4 623.5 961.1 C630.5 959.8 638 959.3 645.4 959.5 C652.9 959.8 660 960.9 666.2 962.7 C672.3 964.5 677.4 966.9 680.9 969.8 C684.5 972.7 686.3 976 686.4 979.4 Z"/>
<path d="M594 980.6 L593.3 984.0"/>
<path d="M686.4 979.4 L687.2 982.5"/>
<path stroke-width="1.2" d="M640.8 1010.8 L658.8 1009.5 659.8 1014.8 641.7 1016.5 Z"/>
<path stroke-width="1.0" d="M643.6 1011.7 L644.6 1017.4 655 1015.9 654.7 1010.2"/>
<path stroke-width="1.2" d="M680.1 1003.4 L690.2 997.7 691.2 1003.4 681.6 1008.5 Z"/>
<path stroke-width="1.0" d="M682 1004.5 L682.8 1007.6 690 1003.7"/>
</g>
<g stroke-width="1.15">
<path fill="#fff" stroke="none" d="M132.5 1352.8 L143.8 1365 L144.3 1389.4 L133.1 1377.2 Z"/>
<path stroke-width="1.0" d="M132.9 1368 L145.8 1364.7"/>
<path stroke-width="1.0" d="M132.9 1371.6 L145.8 1368.3"/>
<path stroke-width="1.1" d="M133.1 1377.2 L146 1373.9"/>
<path d="M132.5 1352.8 L133.1 1377.2"/>
<path fill="#fff" stroke="none" d="M132.5 1352.8 L418.1 1278.8 L429.4 1291 L143.8 1365 Z"/>
<path fill="#fff" stroke="none" d="M143.8 1365 L429.4 1291 L430.4 1315.4 L144.3 1389.4 Z"/>
<path stroke-width="2.0" d="M132.5 1352.8 L418.1 1278.8"/>
<path stroke-width="1.2" d="M132.5 1352.8 L143.8 1365.0"/>
<path stroke-width="1.3" d="M418.1 1278.8 L429.4 1291.0"/>
<path stroke-width="1.3" d="M143.8 1365 L429.4 1291.0"/>
<path stroke-width="1.3" d="M143.8 1365 L144.3 1389.4"/>
<path stroke-width="1.3" d="M429.4 1291 L430.4 1315.4"/>
<path stroke-width="1.9" d="M144.3 1389.4 L430.4 1315.4"/>
<path fill="#2c2c2c" stroke="none" d="M143.9 1367.2 L429.7 1293.2 L429.9 1304.6 L144.1 1378.6 Z"/>
<path stroke-width="0.5" stroke="#a5a5a5" d="M144.6 1369.1 L429.1 1295.1"/>
<path stroke-width="0.5" stroke="#a5a5a5" d="M144.6 1371 L429.1 1297.0"/>
<path stroke-width="0.5" stroke="#a5a5a5" d="M144.6 1372.9 L429.1 1298.9"/>
<path stroke-width="0.5" stroke="#a5a5a5" d="M144.6 1374.8 L429.1 1300.8"/>
<path stroke-width="0.5" stroke="#a5a5a5" d="M144.6 1376.7 L429.1 1302.7"/>
<path stroke-width="0.9" d="M144.1 1381.4 L430 1307.4"/>
<path stroke-width="0.9" d="M144.1 1384.8 L430 1310.8"/>
<path fill="#fff" stroke-width="1.0" d="M198.2 1345.5 C198.3 1346.4 197.9 1347.3 197.1 1348.2 C196.3 1349.1 195 1350 193.4 1350.7 C191.8 1351.4 190 1352 188 1352.3 C186 1352.7 184 1352.8 182 1352.7 C180.1 1352.6 178.4 1352.3 177 1351.8 C175.6 1351.3 174.5 1350.6 173.9 1349.8 C173.3 1349 173.2 1348.1 173.6 1347.1 C174 1346.2 174.8 1345.3 176.1 1344.5 C177.3 1343.6 178.9 1342.9 180.8 1342.3 C182.6 1341.8 184.6 1341.4 186.6 1341.3 C188.6 1341.2 190.6 1341.3 192.3 1341.6 C194 1341.9 195.4 1342.4 196.5 1343.1 C197.5 1343.8 198.1 1344.6 198.2 1345.5 Z"/>
<path stroke-width="1.9" d="M173.7 1349.5 C173.2 1348.6 173.3 1347.7 173.8 1346.8 C174.3 1345.9 175.2 1345 176.5 1344.1 C177.9 1343.3 179.5 1342.7 181.4 1342.2 C183.3 1341.7 185.3 1341.3 187.3 1341.3 C189.3 1341.2 191.2 1341.3 192.8 1341.7 C194.5 1342 195.8 1342.6 196.8 1343.3"/>
<path fill="#fff" stroke-width="1.0" d="M293.8 1321.1 C293.9 1322 293.5 1322.9 292.7 1323.8 C291.9 1324.7 290.6 1325.6 289 1326.3 C287.4 1327 285.6 1327.6 283.6 1327.9 C281.6 1328.3 279.6 1328.4 277.6 1328.3 C275.7 1328.2 274 1327.9 272.6 1327.4 C271.2 1326.9 270.1 1326.2 269.5 1325.4 C268.9 1324.6 268.8 1323.7 269.2 1322.7 C269.6 1321.8 270.4 1320.9 271.7 1320.1 C272.9 1319.2 274.5 1318.5 276.4 1317.9 C278.2 1317.4 280.2 1317 282.2 1316.9 C284.2 1316.8 286.2 1316.9 287.9 1317.2 C289.6 1317.5 291 1318 292.1 1318.7 C293.1 1319.4 293.7 1320.2 293.8 1321.1 Z"/>
<path stroke-width="1.9" d="M269.3 1325.1 C268.8 1324.2 268.9 1323.3 269.4 1322.4 C269.9 1321.5 270.8 1320.6 272.1 1319.7 C273.5 1318.9 275.1 1318.3 277 1317.8 C278.9 1317.3 280.9 1316.9 282.9 1316.9 C284.9 1316.8 286.8 1316.9 288.4 1317.3 C290.1 1317.6 291.4 1318.2 292.4 1318.9"/>
<path fill="#fff" stroke-width="1.0" d="M388.4 1296.1 C388.5 1297 388.1 1297.9 387.3 1298.8 C386.5 1299.7 385.2 1300.6 383.6 1301.3 C382 1302 380.2 1302.6 378.2 1302.9 C376.2 1303.3 374.2 1303.4 372.2 1303.3 C370.3 1303.2 368.6 1302.9 367.2 1302.4 C365.8 1301.9 364.7 1301.2 364.1 1300.4 C363.5 1299.6 363.4 1298.7 363.8 1297.7 C364.2 1296.8 365 1295.9 366.3 1295.1 C367.5 1294.2 369.1 1293.5 371 1292.9 C372.8 1292.4 374.8 1292 376.8 1291.9 C378.8 1291.8 380.8 1291.9 382.5 1292.2 C384.2 1292.5 385.6 1293 386.7 1293.7 C387.7 1294.4 388.3 1295.2 388.4 1296.1 Z"/>
<path stroke-width="1.9" d="M363.9 1300.1 C363.4 1299.2 363.5 1298.3 364 1297.4 C364.5 1296.5 365.4 1295.6 366.7 1294.7 C368.1 1293.9 369.7 1293.3 371.6 1292.8 C373.5 1292.3 375.5 1291.9 377.5 1291.9 C379.5 1291.8 381.4 1291.9 383 1292.3 C384.7 1292.6 386 1293.2 387 1293.9"/>
<path fill="#fff" stroke="none" d="M129.3 1426.3 L435.6 1348.7 L436.9 1353.4 L130.6 1431 Z"/>
<path stroke-width="0.9" stroke="#3c3c3c" d="M129.3 1426.3 L435.6 1348.7"/>
<path stroke-width="0.8" stroke="#555" d="M130.2 1429.3 L436.5 1351.7"/>
<path stroke-width="0.9" stroke="#3c3c3c" d="M130.6 1431 L436.9 1353.4"/>
<path stroke-width="1.0" d="M129.3 1426.3 Q128.1 1428.8 130.6 1431.0"/>
<path stroke-width="1.0" d="M435.6 1348.7 Q437.8 1350.5 436.9 1353.4"/>
<path fill="#1f1f1f" stroke-width="0.8" d="M170.7 1412 L174.8 1411 175 1417.6 171 1416.8 Z"/>
<path fill="#1f1f1f" stroke-width="0.8" d="M198.7 1407.9 L202.8 1408.6 203.6 1415.4 198.6 1419.6 Z"/>
<path fill="#1f1f1f" stroke-width="0.8" d="M174.2 1404.9 L174.9 1423.6 188.4 1424 198.4 1419.7 200.4 1415.9 200.2 1403.4 187.2 1400.4 Z"/>
<path fill="#fff" stroke="none" d="M175.9 1410.8 L177.3 1410.6 177.4 1414.6 176 1414.8 Z"/>
<path fill="#fff" stroke="none" d="M178.3 1411.9 L180.3 1412.3 180.4 1415.4 178.4 1415.1 Z"/>
<path fill="#fff" stroke="none" d="M182.6 1414.6 L184.1 1414.7 184.2 1421.7 182.7 1421.6 Z"/>
<path fill="#fff" stroke="none" d="M189.4 1420.4 L194.2 1418.7 194.2 1420.7 189.4 1422.4 Z"/>
<path fill="#fff" stroke="none" d="M175.2 1418 L180.6 1418.4 180.6 1419.8 175.2 1419.4 Z"/>
<path fill="#fff" stroke="none" d="M175.2 1420.7 L180.6 1421 180.6 1422.6 175.2 1422.4 Z"/>
<path fill="#fff" stroke="none" d="M199.1 1413 L202.4 1411.8 202.6 1413.6 199.2 1415 Z"/>
<path fill="#fff" stroke="none" d="M199.2 1416 L202.5 1414.6 202.2 1416.2 199.2 1418 Z"/>
<path fill="#fff" stroke="none" d="M191.2 1412.9 L193.2 1412.4 193.2 1415.4 191.2 1415.9 Z"/>
<path fill="#fff" stroke="none" d="M187.7 1413.4 L189.4 1413.2 189.4 1415.9 187.7 1416.1 Z"/>
<path fill="#fff" stroke-width="0.95" stroke="#333" d="M199.9 1402 C200 1403.2 199.6 1404.3 198.7 1405.5 C197.8 1406.6 196.5 1407.6 194.9 1408.4 C193.3 1409.2 191.4 1409.8 189.3 1410.1 C187.3 1410.4 185.3 1410.4 183.3 1410.2 C181.3 1410 179.6 1409.4 178.1 1408.7 C176.7 1407.9 175.7 1407 175.1 1405.9 C174.5 1404.8 174.4 1403.6 174.8 1402.5 C175.2 1401.3 176 1400.2 177.3 1399.2 C178.6 1398.2 180.2 1397.4 182.1 1396.8 C184 1396.2 186.1 1395.9 188.1 1395.8 C190.1 1395.8 192.1 1396.1 193.9 1396.6 C195.6 1397.1 197.1 1397.8 198.1 1398.8 C199.2 1399.7 199.8 1400.8 199.9 1402 Z"/>
<path stroke-width="1.9" d="M199.6 1403.9 C199.2 1405 198.3 1406.1 197 1407.1 C195.7 1408.1 194.1 1408.9 192.3 1409.4 C190.4 1410 188.4 1410.3 186.4 1410.4 C184.4 1410.4 182.5 1410.2 180.7 1409.7 C179 1409.2 177.5 1408.5 176.5 1407.6 C175.4 1406.7 174.8 1405.6 174.6 1404.5 C174.4 1403.3 174.7 1402.2 175.5 1401.1"/>
<path fill="#1f1f1f" stroke-width="0.8" d="M266.1 1387.2 L270.2 1386.2 270.4 1392.8 266.4 1392 Z"/>
<path fill="#1f1f1f" stroke-width="0.8" d="M294.1 1383.1 L298.2 1383.8 299 1390.6 294 1394.8 Z"/>
<path fill="#1f1f1f" stroke-width="0.8" d="M269.6 1380.1 L270.3 1398.8 283.8 1399.2 293.8 1394.9 295.8 1391.1 295.6 1378.6 282.6 1375.6 Z"/>
<path fill="#fff" stroke="none" d="M271.3 1386 L272.7 1385.8 272.8 1389.8 271.4 1390 Z"/>
<path fill="#fff" stroke="none" d="M273.7 1387.1 L275.7 1387.5 275.8 1390.6 273.8 1390.3 Z"/>
<path fill="#fff" stroke="none" d="M278 1389.8 L279.5 1389.9 279.6 1396.9 278.1 1396.8 Z"/>
<path fill="#fff" stroke="none" d="M284.8 1395.6 L289.6 1393.9 289.6 1395.9 284.8 1397.6 Z"/>
<path fill="#fff" stroke="none" d="M270.6 1393.2 L276 1393.6 276 1395 270.6 1394.6 Z"/>
<path fill="#fff" stroke="none" d="M270.6 1395.9 L276 1396.2 276 1397.8 270.6 1397.6 Z"/>
<path fill="#fff" stroke="none" d="M294.5 1388.2 L297.8 1387 298 1388.8 294.6 1390.2 Z"/>
<path fill="#fff" stroke="none" d="M294.6 1391.2 L297.9 1389.8 297.6 1391.4 294.6 1393.2 Z"/>
<path fill="#fff" stroke="none" d="M286.6 1388.1 L288.6 1387.6 288.6 1390.6 286.6 1391.1 Z"/>
<path fill="#fff" stroke="none" d="M283.1 1388.6 L284.8 1388.4 284.8 1391.1 283.1 1391.3 Z"/>
<path fill="#fff" stroke-width="0.95" stroke="#333" d="M295.3 1377.2 C295.4 1378.4 295 1379.5 294.1 1380.7 C293.2 1381.8 291.9 1382.8 290.3 1383.6 C288.7 1384.4 286.8 1385 284.7 1385.3 C282.7 1385.6 280.7 1385.6 278.7 1385.4 C276.7 1385.2 275 1384.6 273.5 1383.9 C272.1 1383.1 271.1 1382.2 270.5 1381.1 C269.9 1380 269.8 1378.8 270.2 1377.7 C270.6 1376.5 271.4 1375.4 272.7 1374.4 C274 1373.4 275.6 1372.6 277.5 1372 C279.4 1371.4 281.5 1371.1 283.5 1371 C285.5 1371 287.5 1371.3 289.3 1371.8 C291 1372.3 292.5 1373 293.5 1374 C294.6 1374.9 295.2 1376 295.3 1377.2 Z"/>
<path stroke-width="1.9" d="M295 1379.1 C294.6 1380.2 293.7 1381.3 292.4 1382.3 C291.1 1383.3 289.5 1384.1 287.7 1384.6 C285.8 1385.2 283.8 1385.5 281.8 1385.6 C279.8 1385.6 277.9 1385.4 276.1 1384.9 C274.4 1384.4 272.9 1383.7 271.9 1382.8 C270.8 1381.9 270.2 1380.8 270 1379.7 C269.8 1378.5 270.1 1377.4 270.9 1376.3"/>
<path fill="#1f1f1f" stroke-width="0.8" d="M361.1 1362.1 L365.2 1361.1 365.4 1367.7 361.4 1366.9 Z"/>
<path fill="#1f1f1f" stroke-width="0.8" d="M389.1 1358 L393.2 1358.7 394 1365.5 389 1369.7 Z"/>
<path fill="#1f1f1f" stroke-width="0.8" d="M364.6 1355 L365.3 1373.7 378.8 1374.1 388.8 1369.8 390.8 1366 390.6 1353.5 377.6 1350.5 Z"/>
<path fill="#fff" stroke="none" d="M366.3 1360.9 L367.7 1360.7 367.8 1364.7 366.4 1364.9 Z"/>
<path fill="#fff" stroke="none" d="M368.7 1362 L370.7 1362.4 370.8 1365.5 368.8 1365.2 Z"/>
<path fill="#fff" stroke="none" d="M373 1364.7 L374.5 1364.8 374.6 1371.8 373.1 1371.7 Z"/>
<path fill="#fff" stroke="none" d="M379.8 1370.5 L384.6 1368.8 384.6 1370.8 379.8 1372.5 Z"/>
<path fill="#fff" stroke="none" d="M365.6 1368.1 L371 1368.5 371 1369.9 365.6 1369.5 Z"/>
<path fill="#fff" stroke="none" d="M365.6 1370.8 L371 1371.1 371 1372.7 365.6 1372.5 Z"/>
<path fill="#fff" stroke="none" d="M389.5 1363.1 L392.8 1361.9 393 1363.7 389.6 1365.1 Z"/>
<path fill="#fff" stroke="none" d="M389.6 1366.1 L392.9 1364.7 392.6 1366.3 389.6 1368.1 Z"/>
<path fill="#fff" stroke="none" d="M381.6 1363 L383.6 1362.5 383.6 1365.5 381.6 1366 Z"/>
<path fill="#fff" stroke="none" d="M378.1 1363.5 L379.8 1363.3 379.8 1366 378.1 1366.2 Z"/>
<path fill="#fff" stroke-width="0.95" stroke="#333" d="M390.3 1352.1 C390.4 1353.3 390 1354.4 389.1 1355.6 C388.2 1356.7 386.9 1357.7 385.3 1358.5 C383.7 1359.3 381.8 1359.9 379.7 1360.2 C377.7 1360.5 375.7 1360.5 373.7 1360.3 C371.7 1360.1 370 1359.5 368.5 1358.8 C367.1 1358 366.1 1357.1 365.5 1356 C364.9 1354.9 364.8 1353.7 365.2 1352.6 C365.6 1351.4 366.4 1350.3 367.7 1349.3 C369 1348.3 370.6 1347.5 372.5 1346.9 C374.4 1346.3 376.5 1346 378.5 1345.9 C380.5 1345.9 382.5 1346.2 384.3 1346.7 C386 1347.2 387.5 1347.9 388.5 1348.9 C389.6 1349.8 390.2 1350.9 390.3 1352.1 Z"/>
<path stroke-width="1.9" d="M390 1354 C389.6 1355.1 388.7 1356.2 387.4 1357.2 C386.1 1358.2 384.5 1359 382.7 1359.5 C380.8 1360.1 378.8 1360.4 376.8 1360.5 C374.8 1360.5 372.9 1360.3 371.1 1359.8 C369.4 1359.3 367.9 1358.6 366.9 1357.7 C365.8 1356.8 365.2 1355.7 365 1354.6 C364.8 1353.4 365.1 1352.3 365.9 1351.2"/>
<path fill="#fff" stroke="none" d="M134.5 1460.8 L420.1 1387.2 L420.7 1394.7 L426 1400.9 L432.3 1400 L432.9 1409.3 L147.3 1482.9 L135.1 1468.3 Z"/>
<path stroke-width="1.9" d="M134.5 1460.8 L420.1 1387.2"/>
<path stroke-width="0.9" d="M134.8 1463.4 L420.4 1389.8"/>
<path stroke-width="0.9" d="M134.8 1465.4 L420.4 1391.8"/>
<path stroke-width="1.0" d="M134.8 1467 L420.4 1393.4"/>
<path stroke-width="1.2" d="M134.5 1460.8 L135.1 1468.3"/>
<path stroke-width="1.2" d="M135.1 1468.3 L147.3 1482.9"/>
<path stroke-width="1.2" d="M146.7 1473.6 L147.3 1482.9"/>
<path stroke-width="1.5" d="M146.7 1473.6 L432.3 1400.0"/>
<path stroke-width="0.9" d="M146.9 1476.2 L432.5 1402.6"/>
<path stroke-width="0.9" d="M146.9 1478.4 L432.5 1404.8"/>
<path stroke-width="0.9" d="M146.9 1480.2 L432.5 1406.6"/>
<path stroke-width="1.7" d="M147.3 1482.9 L432.9 1409.3"/>
<path stroke-width="0.9" d="M246.7 1446.9 L426 1400.9"/>
<path stroke-width="1.2" d="M420.1 1387.2 L420.7 1391.8"/>
<path stroke-width="1.2" d="M420.7 1391.8 L426 1400.9"/>
<path stroke-width="1.2" d="M432.3 1400 L432.9 1409.3"/>
<path stroke-width="1.0" d="M426 1400.9 L432.3 1400.0"/>
<path fill="#fff" stroke="none" d="M499.2 1392.4 L515 1388.8 L515 1396.6 L500 1396.6 Z"/>
<path stroke-width="1.0" d="M499.2 1392.4 L514 1389.0"/>
<path stroke-width="1.0" d="M499.6 1396.9 L506 1395.6"/>
<path stroke-width="0.8" d="M499.2 1394.8 L505 1393.6"/>
<path stroke-width="0.9" d="M500.6 1394.6 C500.6 1395 500.6 1395.3 500.5 1395.7 C500.4 1396 500.2 1396.3 500.1 1396.5 C499.9 1396.7 499.7 1396.8 499.5 1396.9 C499.4 1396.9 499.2 1396.9 499 1396.8 C498.8 1396.6 498.6 1396.4 498.5 1396.1 C498.4 1395.8 498.3 1395.5 498.2 1395.2 C498.2 1394.8 498.2 1394.4 498.2 1394 C498.3 1393.7 498.4 1393.4 498.5 1393.1 C498.6 1392.8 498.8 1392.6 499 1392.4 C499.2 1392.3 499.4 1392.3 499.5 1392.3 C499.7 1392.4 499.9 1392.5 500.1 1392.7 C500.2 1392.9 500.4 1393.2 500.5 1393.5 C500.6 1393.9 500.6 1394.2 500.6 1394.6 Z"/>
<path fill="#fff" stroke-width="1.0" d="M809 1312.4 L816 1310.6 Q817.6 1312.4 816.8 1314.6 L810.5 1316.2"/>
<path fill="#fff" stroke="none" d="M502.9 1379.3 L515.1 1390.7 L515.6 1416.9 L503.5 1405.9 Z"/>
<path stroke-width="1.0" d="M503.3 1394.5 L516.6 1391.1"/>
<path stroke-width="1.0" d="M503.3 1398.1 L516.6 1394.7"/>
<path stroke-width="1.1" d="M503.5 1405.9 L516.8 1402.5"/>
<path d="M502.9 1379.3 L503.5 1405.9"/>
<path fill="#fff" stroke="none" d="M502.9 1379.3 L798.8 1303.7 L811 1315.1 L515.1 1390.7 Z"/>
<path fill="#fff" stroke="none" d="M515.1 1390.7 L811 1315.1 L812 1341.3 L515.6 1416.9 Z"/>
<path stroke-width="2.0" d="M502.9 1379.3 L798.8 1303.7"/>
<path stroke-width="1.2" d="M502.9 1379.3 L515.1 1390.7"/>
<path stroke-width="1.3" d="M798.8 1303.7 L811 1315.1"/>
<path stroke-width="1.3" d="M515.1 1390.7 L811 1315.1"/>
<path stroke-width="1.3" d="M515.1 1390.7 L515.6 1416.9"/>
<path stroke-width="1.3" d="M811 1315.1 L812 1341.3"/>
<path stroke-width="1.9" d="M515.6 1416.9 L812 1341.3"/>
<path fill="#2c2c2c" stroke="none" d="M515.2 1393.3 L811.3 1317.7 L811.5 1331.7 L515.4 1407.3 Z"/>
<path stroke-width="0.5" stroke="#a5a5a5" d="M515.9 1395.6 L810.7 1320.0"/>
<path stroke-width="0.5" stroke="#a5a5a5" d="M515.9 1398 L810.7 1322.4"/>
<path stroke-width="0.5" stroke="#a5a5a5" d="M515.9 1400.3 L810.7 1324.7"/>
<path stroke-width="0.5" stroke="#a5a5a5" d="M515.9 1402.6 L810.7 1327.0"/>
<path stroke-width="0.5" stroke="#a5a5a5" d="M515.9 1405 L810.7 1329.4"/>
<path stroke-width="0.9" d="M515.4 1410.3 L811.6 1334.7"/>
<path stroke-width="0.9" d="M515.4 1413.3 L811.6 1337.7"/>
<path fill="#1f1f1f" stroke-width="0.8" d="M571.3 1370.9 C571.4 1372.1 570.9 1373.3 570 1374.4 C569.1 1375.6 567.8 1376.6 566.1 1377.4 C564.4 1378.2 562.4 1378.7 560.4 1379 C558.3 1379.3 556.2 1379.3 554.2 1379 C552.2 1378.7 550.4 1378.2 548.9 1377.4 C547.5 1376.6 546.4 1375.6 545.8 1374.4 C545.2 1373.3 545.2 1372.1 545.6 1370.9 C546 1369.7 546.9 1368.6 548.3 1367.6 C549.6 1366.6 551.3 1365.8 553.2 1365.2 C555.2 1364.7 557.3 1364.4 559.4 1364.4 C561.4 1364.4 563.5 1364.7 565.2 1365.2 C567 1365.8 568.5 1366.6 569.5 1367.6 C570.6 1368.6 571.2 1369.7 571.3 1370.9 Z"/>
<path fill="#fff" stroke-width="1.3" d="M571.2 1367.2 C571.2 1368.3 570.8 1369.4 569.9 1370.5 C569.1 1371.5 567.7 1372.4 566.1 1373.2 C564.4 1373.9 562.5 1374.5 560.5 1374.7 C558.5 1375 556.4 1375 554.5 1374.8 C552.5 1374.5 550.7 1374 549.3 1373.3 C547.9 1372.5 546.9 1371.6 546.3 1370.6 C545.7 1369.6 545.7 1368.4 546.1 1367.3 C546.5 1366.2 547.4 1365.2 548.7 1364.3 C550 1363.3 551.7 1362.6 553.6 1362.1 C555.5 1361.5 557.5 1361.3 559.6 1361.3 C561.6 1361.2 563.6 1361.5 565.3 1362 C567 1362.5 568.5 1363.3 569.5 1364.2 C570.5 1365.1 571.1 1366.1 571.2 1367.2 Z"/>
<path fill="#1f1f1f" stroke-width="0.8" d="M669.9 1345.6 C670 1346.8 669.5 1348 668.6 1349.1 C667.7 1350.3 666.4 1351.3 664.7 1352.1 C663 1352.9 661 1353.4 659 1353.7 C656.9 1354 654.8 1354 652.8 1353.7 C650.8 1353.4 649 1352.9 647.5 1352.1 C646.1 1351.3 645 1350.3 644.4 1349.1 C643.8 1348 643.8 1346.8 644.2 1345.6 C644.6 1344.4 645.5 1343.3 646.9 1342.3 C648.2 1341.3 649.9 1340.5 651.8 1339.9 C653.8 1339.4 655.9 1339.1 658 1339.1 C660 1339.1 662.1 1339.4 663.8 1339.9 C665.6 1340.5 667.1 1341.3 668.1 1342.3 C669.2 1343.3 669.8 1344.4 669.9 1345.6 Z"/>
<path fill="#fff" stroke-width="1.3" d="M669.8 1341.9 C669.8 1343 669.4 1344.1 668.5 1345.2 C667.7 1346.2 666.3 1347.1 664.7 1347.9 C663 1348.6 661.1 1349.2 659.1 1349.4 C657.1 1349.7 655 1349.7 653.1 1349.5 C651.1 1349.2 649.3 1348.7 647.9 1348 C646.5 1347.2 645.5 1346.3 644.9 1345.3 C644.3 1344.3 644.3 1343.1 644.7 1342 C645.1 1340.9 646 1339.9 647.3 1339 C648.6 1338 650.3 1337.3 652.2 1336.8 C654.1 1336.2 656.1 1336 658.2 1336 C660.2 1335.9 662.2 1336.2 663.9 1336.7 C665.6 1337.2 667.1 1338 668.1 1338.9 C669.1 1339.8 669.7 1340.8 669.8 1341.9 Z"/>
<path fill="#1f1f1f" stroke-width="0.8" d="M768.3 1319.4 C768.4 1320.6 767.9 1321.8 767 1322.9 C766.1 1324.1 764.8 1325.1 763.1 1325.9 C761.4 1326.7 759.4 1327.2 757.4 1327.5 C755.3 1327.8 753.2 1327.8 751.2 1327.5 C749.2 1327.2 747.4 1326.7 745.9 1325.9 C744.5 1325.1 743.4 1324.1 742.8 1322.9 C742.2 1321.8 742.2 1320.6 742.6 1319.4 C743 1318.2 743.9 1317.1 745.3 1316.1 C746.6 1315.1 748.3 1314.3 750.2 1313.7 C752.2 1313.2 754.3 1312.9 756.4 1312.9 C758.4 1312.9 760.5 1313.2 762.2 1313.7 C764 1314.3 765.5 1315.1 766.5 1316.1 C767.6 1317.1 768.2 1318.2 768.3 1319.4 Z"/>
<path fill="#fff" stroke-width="1.3" d="M768.2 1315.7 C768.2 1316.8 767.8 1317.9 766.9 1319 C766.1 1320 764.7 1320.9 763.1 1321.7 C761.4 1322.4 759.5 1323 757.5 1323.2 C755.5 1323.5 753.4 1323.5 751.5 1323.3 C749.5 1323 747.7 1322.5 746.3 1321.8 C744.9 1321 743.9 1320.1 743.3 1319.1 C742.7 1318.1 742.7 1316.9 743.1 1315.8 C743.5 1314.7 744.4 1313.7 745.7 1312.8 C747 1311.8 748.7 1311.1 750.6 1310.6 C752.5 1310 754.5 1309.8 756.6 1309.8 C758.6 1309.7 760.6 1310 762.3 1310.5 C764 1311 765.5 1311.8 766.5 1312.7 C767.5 1313.6 768.1 1314.6 768.2 1315.7 Z"/>
</g>
</g>
</svg>
</body></html>
